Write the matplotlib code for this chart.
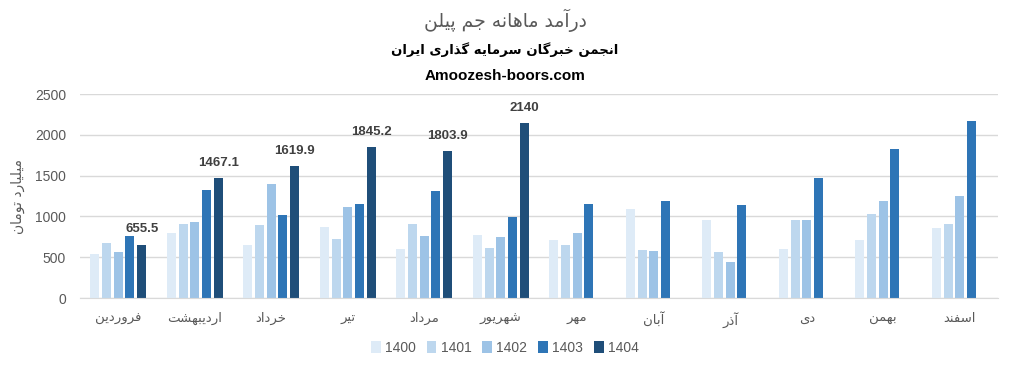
import numpy as np
import matplotlib
matplotlib.use("Agg")
import matplotlib.pyplot as plt
from matplotlib.patches import Patch

# ---------------- data ----------------
months = ["فروردین", "اردیبهشت", "خرداد", "تیر", "مرداد", "شهریور",
          "مهر", "آبان", "آذر", "دی", "بهمن", "اسفند"]
years = ["1400", "1401", "1402", "1403", "1404"]
v1400 = [545, 801, 654, 874, 606, 776, 715, 1093, 959, 606, 715, 862]
v1401 = [679, 911, 898, 724, 911, 618, 654, 593, 569, 959, 1033, 911]
v1402 = [565, 935, 1398, 1118, 764, 752, 801, 581, 447, 959, 1191, 1252]
v1403 = [764, 1325, 1020, 1154, 1313, 996, 1154, 1191, 1142, 1472, 1825, 2167]
v1404 = [655.5, 1467.1, 1619.9, 1845.2, 1803.9, 2140,
         None, None, None, None, None, None]
title = "درآمد ماهانه جم پیلن"
subtitle = "انجمن خبرگان سرمایه گذاری ایران"
site = "Amoozesh-boors.com"
ylabel = "میلیارد تومان"

colors = ["#DEEBF7", "#BDD7EE", "#9DC3E6", "#2E75B6", "#1F4E79"]

# ---------------- minimal Persian shaping ----------------
DUAL = {
    "ب": "\uFE8F\uFE90\uFE91\uFE92", "پ": "\uFB56\uFB57\uFB58\uFB59",
    "ت": "\uFE95\uFE96\uFE97\uFE98", "ج": "\uFE9D\uFE9E\uFE9F\uFEA0",
    "خ": "\uFEA5\uFEA6\uFEA7\uFEA8", "س": "\uFEB1\uFEB2\uFEB3\uFEB4",
    "ش": "\uFEB5\uFEB6\uFEB7\uFEB8", "ف": "\uFED1\uFED2\uFED3\uFED4",
    "گ": "\uFB92\uFB93\uFB94\uFB95", "ک": "\uFB8E\uFB8F\uFB90\uFB91",
    "ل": "\uFEDD\uFEDE\uFEDF\uFEE0", "م": "\uFEE1\uFEE2\uFEE3\uFEE4",
    "ن": "\uFEE5\uFEE6\uFEE7\uFEE8", "ه": "\uFEE9\uFEEA\uFEEB\uFEEC",
    "ی": "\uFBFC\uFBFD\uFBFE\uFBFF",
}
RIGHT = {
    "ا": "\uFE8D\uFE8E", "آ": "\uFE81\uFE82", "د": "\uFEA9\uFEAA",
    "ذ": "\uFEAB\uFEAC", "ر": "\uFEAD\uFEAE", "ز": "\uFEAF\uFEB0",
    "و": "\uFEED\uFEEE",
}


def shape(s):
    out = []
    n = len(s)
    for i, c in enumerate(s):
        if c not in DUAL and c not in RIGHT:
            out.append(c)
            continue
        prev = s[i - 1] if i > 0 else ""
        nxt = s[i + 1] if i + 1 < n else ""
        jp = prev in DUAL
        if c in DUAL:
            jn = nxt in DUAL or nxt in RIGHT
            f = DUAL[c]
            out.append(f[3] if (jp and jn) else f[1] if jp else f[2] if jn else f[0])
        else:
            f = RIGHT[c]
            out.append(f[1] if jp else f[0])
    return "".join(reversed(out))


AR = ["DejaVu Sans"]
NUM = ["Liberation Sans", "DejaVu Sans"]
GRAY = "#595959"

# ---------------- figure ----------------
fig = plt.figure(figsize=(10.1, 3.7), dpi=100)
ax = fig.add_axes([80 / 1010, 1 - 298 / 370, (998 - 80) / 1010, (298 - 94) / 370])

series = [v1400, v1401, v1402, v1403, v1404]
x = np.arange(len(months))
slot = 0.153
bw = 0.118
for k, (vals, col, yr) in enumerate(zip(series, colors, years)):
    arr = np.array([np.nan if v is None else v for v in vals], dtype=float)
    xs = x + (k - 2) * slot
    ax.bar(xs, arr, width=bw, color=col, zorder=3, label=yr)
    if yr == "1404":
        for xi, v in zip(xs, vals):
            if v is None:
                continue
            lab = f"{v:g}"
            ax.annotate(lab, (xi, v), xytext=(0, 6.5), textcoords="offset points",
                        ha="center", va="bottom", fontsize=9.5, fontweight="bold",
                        color="#404040", family=NUM)

ax.set_xlim(-0.5, len(months) - 0.5)
ax.set_ylim(0, 2500)
ax.set_yticks(np.arange(0, 2501, 500))
ax.yaxis.grid(True, color="#D9D9D9", linewidth=1, zorder=0)
for s in ["top", "right", "left"]:
    ax.spines[s].set_visible(False)
ax.spines["bottom"].set_color("#D9D9D9")
ax.spines["bottom"].set_zorder(4)
ax.tick_params(axis="both", length=0, colors=GRAY)
ax.tick_params(axis="y", pad=10)
ax.tick_params(axis="x", pad=10)
ax.set_xticks(x)
ax.set_xticklabels([shape(m) for m in months], family=AR, fontsize=9.5, color=GRAY)
for t in ax.get_yticklabels():
    t.set_family(NUM)
    t.set_fontsize(10)
    t.set_color(GRAY)

fig.text(18 / 1010, 1 - 196 / 370, shape(ylabel), rotation=90, ha="center", va="center",
         family=AR, fontsize=10, color=GRAY)

fig.text(0.5, 1 - 20 / 370, shape(title), ha="center", va="center",
         family=AR, fontsize=13.5, color=GRAY)
fig.text(0.5, 1 - 50 / 370, shape(subtitle), ha="center", va="center",
         family=AR, fontsize=9.5, fontweight="bold", color="black")
fig.text(0.5, 1 - 76 / 370, site, ha="center", va="center",
         family=NUM, fontsize=11, fontweight="bold", color="black")

handles = [Patch(facecolor=c, edgecolor="none", label=y) for c, y in zip(colors, years)]
fig.legend(handles=handles, loc="center", bbox_to_anchor=(0.5, 1 - 348 / 370), ncol=5,
           frameon=False, handlelength=0.7, handleheight=0.9, handletextpad=0.3,
           columnspacing=0.8, prop={"family": NUM, "size": 10}, labelcolor=GRAY)

fig.savefig("out.png", dpi=100)
